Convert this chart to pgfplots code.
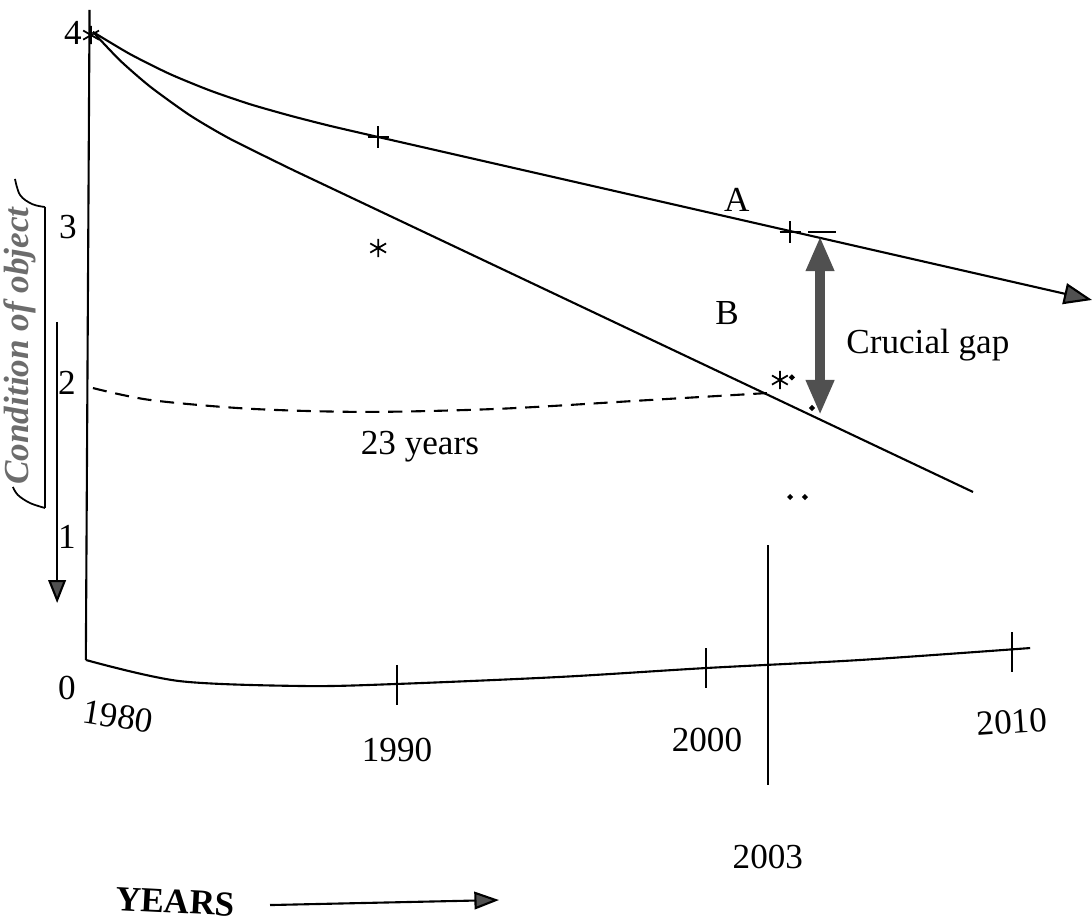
\documentclass[border=0pt]{standalone}
\usepackage{fontspec}
\setmainfont{Liberation Serif}
\usepackage{pgfplots}
\pgfplotsset{compat=1.18}
\usetikzlibrary{arrows.meta}
\definecolor{arrowgray}{HTML}{505050}
\begin{document}
\begin{tikzpicture}[every node/.style={font=\fontsize{10}{12}\selectfont}]
\begin{axis}[
  width=10.92cm, height=9.24cm, scale only axis,
  xmin=1977.152, xmax=2012.49, ymin=-1.6815, ymax=4.2038,
  hide axis, clip=false,
  every axis plot/.append style={line width=0.6pt, black},
]
% y axis
\addplot[no marks] coordinates {(1980.05,4.14) (1979.93,0)};
% x axis (curved)
\addplot[no marks, smooth, tension=0.5] coordinates {
 (1979.93,0) (1982.94,-0.134) (1986.99,-0.166) (1989.97,-0.153)
 (1995.28,-0.108) (2000.03,-0.051) (2005.0,0.0) (2010.49,0.076)};
% ticks
\addplot[no marks] coordinates {(1990,-0.032) (1990,-0.287)};
\addplot[no marks] coordinates {(2000,0.076) (2000,-0.178)};
\addplot[no marks] coordinates {(2009.9,0.178) (2009.9,-0.076)};
% 2003 line
\addplot[no marks] coordinates {(2002.0,0.732) (2002.0,-0.796)};
% curve A
\addplot[no marks, smooth, tension=0.4] coordinates {
 (1980.16,4.000) (1981.36,3.859) (1982.65,3.732) (1983.95,3.627) (1985.24,3.540)
 (1986.54,3.467) (1987.83,3.402) (1989.39,3.331)};
\addplot[no marks, -{Triangle[length=8pt,width=6pt,fill=arrowgray]}] coordinates {
 (1989.39,3.331) (2012.49,2.293)};
% curve B
\addplot[no marks, smooth, tension=0.4] coordinates {
 (1980.16,4.000) (1981.04,3.818) (1982.01,3.652) (1983.30,3.469) (1984.60,3.319) (1986.63,3.121)};
\addplot[no marks] coordinates {(1986.63,3.121) (2008.64,1.070)};
% dashed curve
\addplot[no marks, dash pattern=on 4pt off 2.5pt, smooth, tension=0.5] coordinates {
 (1980.16,1.732) (1982.01,1.656) (1985.24,1.600) (1989.0,1.580) (1993.33,1.600) (1998.19,1.656) (2001.97,1.700)};
% + marks
\addplot[only marks, mark=+, mark size=3pt, line width=0.5pt] coordinates {(1989.39,3.331) (2002.72,2.726)};
% asterisks
\addplot[only marks, mark=asterisk, mark size=2.6pt, line width=0.5pt] coordinates {(1980.1,3.98) (1989.39,2.624) (2002.39,1.783)};
% small dots
\addplot[only marks, mark=*, mark size=0.45pt] coordinates {(2002.78,1.80) (2003.43,1.605) (2002.72,1.038) (2003.2,1.038)};
% crucial gap arrow
\addplot[no marks, line width=0.6pt] coordinates {(2003.30,2.725) (2004.20,2.725)};
\addplot[no marks, line width=3pt, arrowgray, {Triangle[length=10pt,width=7.5pt]}-{Triangle[length=10pt,width=7.5pt]}] coordinates {(2003.69,2.70) (2003.69,1.56)};
% left down arrow
\addplot[no marks, -{Triangle[length=6.5pt,width=5pt,fill=arrowgray]}] coordinates {(1979.00,2.153) (1979.00,0.363)};
% YEARS arrow
\addplot[no marks, -{Triangle[length=7pt,width=5pt,fill=arrowgray]}] coordinates {(1985.89,-1.561) (1993.3,-1.529)};
% bracket around y label
\addplot[no marks, smooth, tension=0.6, line width=0.5pt] coordinates {(1977.638,3.064) (1977.80,2.962) (1978.19,2.904) (1978.61,2.885)};
\addplot[no marks, line width=0.5pt] coordinates {(1978.61,2.885) (1978.61,0.968)};
\addplot[no marks, smooth, tension=0.6, line width=0.5pt] coordinates {(1978.61,0.968) (1978.12,1.0) (1977.73,1.051) (1977.57,1.102)};

% labels
\node at (axis cs:1979.51,3.994) {4};
\node at (axis cs:1979.35,2.758) {3};
\node at (axis cs:1979.32,1.764) {2};
\node at (axis cs:1979.32,0.783) {1};
\node at (axis cs:1979.32,-0.178) {0};
\node[rotate=-9] at (axis cs:1980.97,-0.36) {1980};
\node at (axis cs:1990.0,-0.573) {1990};
\node at (axis cs:2000.03,-0.51) {2000};
\node[rotate=4] at (axis cs:2009.90,-0.395) {2010};
\node at (axis cs:2002.0,-1.255) {2003};
\node[rotate=-3, font=\fontsize{10}{12}\selectfont\bfseries] at (axis cs:1982.82,-1.54) {YEARS};
\node at (axis cs:2001.0,2.93) {A};
\node at (axis cs:2000.68,2.21) {B};
\node at (axis cs:2007.18,2.006) {Crucial gap};
\node at (axis cs:1990.74,1.357) {23 years};
\node[rotate=90, text=gray!85!black, font=\fontsize{10}{12}\selectfont\bfseries\itshape] at (axis cs:1977.80,2.0) {Condition of object};
\end{axis}
\pgfresetboundingbox
\path (current axis.south west) rectangle (current axis.north east);
\end{tikzpicture}
\end{document}
